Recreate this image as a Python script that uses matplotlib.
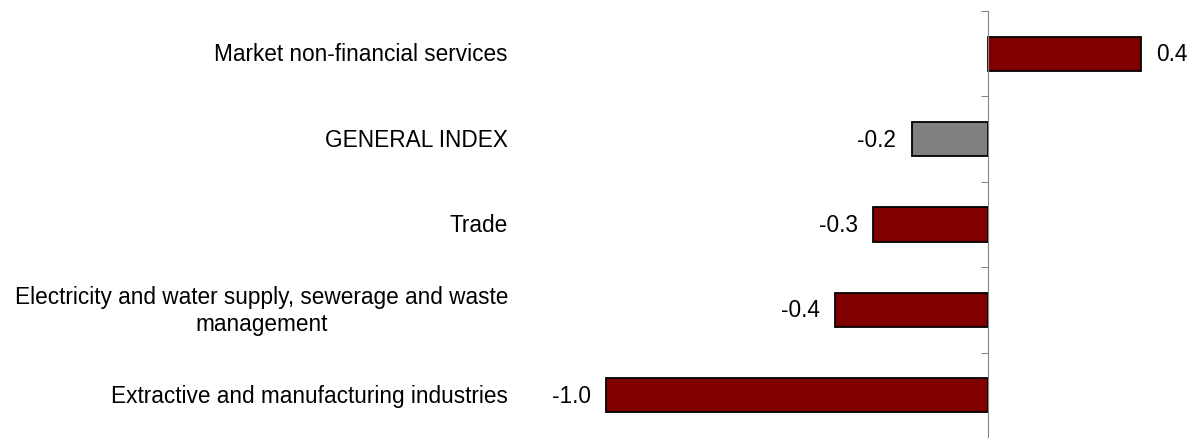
import matplotlib.pyplot as plt
import matplotlib.transforms as mtransforms

plt.rcParams['font.family'] = ['Liberation Sans', 'DejaVu Sans']

# data
categories = ["Market non-financial services",
              "GENERAL INDEX",
              "Trade",
              "Electricity and water supply, sewerage and waste\nmanagement",
              "Extractive and manufacturing industries"]
values = [0.4, -0.2, -0.3, -0.4, -1.0]
colors = ["#800000", "#808080", "#800000", "#800000", "#800000"]

fig = plt.figure(figsize=(11.95, 4.39), dpi=100)
ax = fig.add_axes([560 / 1195, 0.0, 635 / 1195, 1 - 12 / 439])

ypos = list(range(len(categories)))
bars = ax.barh(ypos, values, height=0.4, color=colors,
               edgecolor="black", linewidth=1.3)

ax.set_ylim(len(categories) - 0.5, -0.5)
ax.set_xlim(-(988 - 560) / 382, (1195 - 988) / 382)

# value labels
for b, v in zip(bars, values):
    ax.annotate(f"{v:.1f}", (v, b.get_y() + b.get_height() / 2),
                xytext=(11 if v >= 0 else -11, 0), textcoords="offset points",
                ha="left" if v >= 0 else "right", va="center", fontsize=16.3)

# category labels
trans = mtransforms.blended_transform_factory(fig.transFigure, ax.transData)
for y, c in zip(ypos, categories):
    ax.text(508 / 1195, y, c, transform=trans, ha="right", va="center",
            multialignment="center", fontsize=16.3, linespacing=1.2)

# spines / ticks
for s in ["top", "right", "bottom"]:
    ax.spines[s].set_visible(False)
ax.spines["left"].set_position(("data", 0))
ax.spines["left"].set_color("#868686")
ax.set_xticks([])
ax.set_yticks([y - 0.5 for y in range(len(categories) + 1)])
ax.set_yticklabels([])
ax.tick_params(axis="y", length=5, color="#868686", direction="out")

fig.savefig("out.png", dpi=100)
